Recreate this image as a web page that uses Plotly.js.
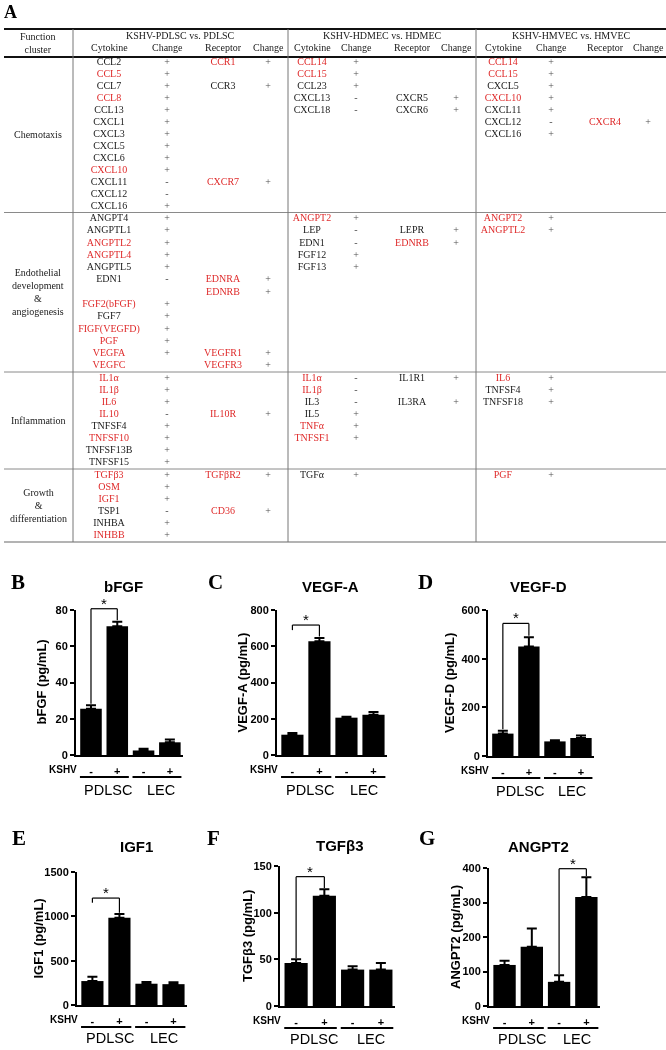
<!DOCTYPE html>
<html><head><meta charset="utf-8">
<script src="https://cdn.plot.ly/plotly-3.0.1.min.js"></script>
<style>html,body{margin:0;padding:0;background:#fff}#chart{width:666px;height:1050px;will-change:transform}</style>
</head><body><div id="chart"></div>
<script>
// ================= Panel A data =================
const clusterNames = ["Chemotaxis", "Endothelial<br>development<br>&<br>angiogenesis", "Inflammation", "Growth<br>&<br>differentiation"];
const comparisons = ["KSHV-PDLSC vs. PDLSC", "KSHV-HDMEC vs. HDMEC", "KSHV-HMVEC vs. HMVEC"];
const subHeaders = ["Cytokine", "Change", "Receptor", "Change"];

// rows: [cytokine, change, receptor, receptor change]
const pdlscChemotaxis = [["CCL2","+","CCR1","+"],["CCL5","+","",""],["CCL7","+","CCR3","+"],["CCL8","+","",""],["CCL13","+","",""],["CXCL1","+","",""],["CXCL3","+","",""],["CXCL5","+","",""],["CXCL6","+","",""],["CXCL10","+","",""],["CXCL11","-","CXCR7","+"],["CXCL12","-","",""],["CXCL16","+","",""]];
const pdlscEndothelial = [["ANGPT4","+","",""],["ANGPTL1","+","",""],["ANGPTL2","+","",""],["ANGPTL4","+","",""],["ANGPTL5","+","",""],["EDN1","-","EDNRA","+"],["","","EDNRB","+"],["FGF2(bFGF)","+","",""],["FGF7","+","",""],["FIGF(VEGFD)","+","",""],["PGF","+","",""],["VEGFA","+","VEGFR1","+"],["VEGFC","","VEGFR3","+"]];
const pdlscInflammation = [["IL1α","+","",""],["IL1β","+","",""],["IL6","+","",""],["IL10","-","IL10R","+"],["TNFSF4","+","",""],["TNFSF10","+","",""],["TNFSF13B","+","",""],["TNFSF15","+","",""]];
const pdlscGrowth = [["TGFβ3","+","TGFβR2","+"],["OSM","+","",""],["IGF1","+","",""],["TSP1","-","CD36","+"],["INHBA","+","",""],["INHBB","+","",""]];

const hdmecChemotaxis = [["CCL14","+","",""],["CCL15","+","",""],["CCL23","+","",""],["CXCL13","-","CXCR5","+"],["CXCL18","-","CXCR6","+"]];
const hdmecEndothelial = [["ANGPT2","+","",""],["LEP","-","LEPR","+"],["EDN1","-","EDNRB","+"],["FGF12","+","",""],["FGF13","+","",""]];
const hdmecInflammation = [["IL1α","-","IL1R1","+"],["IL1β","-","",""],["IL3","-","IL3RA","+"],["IL5","+","",""],["TNFα","+","",""],["TNFSF1","+","",""]];
const hdmecGrowth = [["TGFα","+","",""]];

const hmvecChemotaxis = [["CCL14","+","",""],["CCL15","+","",""],["CXCL5","+","",""],["CXCL10","+","",""],["CXCL11","+","",""],["CXCL12","-","CXCR4","+"],["CXCL16","+","",""]];
const hmvecEndothelial = [["ANGPT2","+","",""],["ANGPTL2","+","",""]];
const hmvecInflammation = [["IL6","+","",""],["TNFSF4","+","",""],["TNFSF18","+","",""]];
const hmvecGrowth = [["PGF","+","",""]];

const highlighted = ["CCL5","CCL8","CXCL10","CCR1","CXCR7","CCL14","CCL15","CXCR4","ANGPT2","ANGPTL2","ANGPTL4","EDNRA","EDNRB","FGF2(bFGF)","FIGF(VEGFD)","PGF","VEGFA","VEGFC","VEGFR1","VEGFR3","IL1α","IL1β","IL6","IL10","IL10R","TNFSF10","TNFα","TNFSF1","TGFβ3","TGFβR2","OSM","IGF1","CD36","INHBB"];

// ================= Panels B-G data =================
const cellTypes = ["PDLSC","PDLSC","LEC","LEC"];
const kshvStatus = ["-","+","-","+"];
const groupNames = ["PDLSC","LEC"];

const bfgf = [25.5, 71, 2.5, 7];      const bfgfErr = [2, 2.5, 1, 1.5];
const vegfa = [112, 628, 206, 222];   const vegfaErr = [10, 18, 5, 15];
const vegfd = [92, 450, 60, 74];      const vegfdErr = [12, 38, 5, 10];
const igf1 = [270, 985, 240, 235];    const igf1Err = [50, 40, 20, 22];
const tgfb3 = [46, 118, 39, 39];      const tgfb3Err = [4, 7, 3.5, 7];
const angpt2 = [119, 172, 70, 316];   const angpt2Err = [12, 53, 19, 57];

// significance: [bar i, bar j, bracket height, left leg to bar (1) or short (0), right leg to bar]
const bfgfSig = [0, 1, 80.7, 1, 1];
const vegfaSig = [0, 1, 717, 0, 1];
const vegfdSig = [0, 1, 545, 1, 1];
const igf1Sig = [0, 1, 1206, 0, 1];
const tgfb3Sig = [0, 1, 138.6, 1, 1];
const angpt2Sig = [2, 3, 398, 1, 1];

// ================= Build =================
const W = 666, H = 1050;
const PX = p => p / W, PY = p => 1 - p / H;
const RED = "#df2b2b", INK = "#1a1a1a", SIGN = "#505050";
const SERIF = "Liberation Serif, Times New Roman, serif";
const SANS = "Liberation Sans, Arial, sans-serif";

const traces = [], annotations = [], shapes = [];
const layout = {
  width: W, height: H, margin: {l:0, r:0, t:0, b:0},
  paper_bgcolor: "#fff", plot_bgcolor: "rgba(0,0,0,0)", showlegend: false,
  annotations, shapes
};
const note = (o) => annotations.push(Object.assign({showarrow:false, xanchor:"center", yanchor:"middle"}, o));

// ---- Table (panel A) ----
const tableBottom = 548;
layout.xaxis7 = {domain:[0,1], range:[0, W], visible:false, fixedrange:true};
layout.yaxis7 = {domain:[PY(tableBottom), 1], range:[tableBottom, 0], visible:false, fixedrange:true};
const sepY = [57, 212.5, 372, 469, 542];
const colX = [[109,167,223,268],[312,356,412,456],[503,551,605,648]];
const groupCenterX = [180.5, 382, 571];
const vLineX = [73, 288, 476];
const labelX = 38;
const tableData = [
  [pdlscChemotaxis, pdlscEndothelial, pdlscInflammation, pdlscGrowth],
  [hdmecChemotaxis, hdmecEndothelial, hdmecInflammation, hdmecGrowth],
  [hmvecChemotaxis, hmvecEndothelial, hmvecInflammation, hmvecGrowth]
];
const cellsOf = {black:{x:[],y:[],t:[]}, red:{x:[],y:[],t:[]}, sign:{x:[],y:[],t:[]}};
clusterNames.forEach((name, k) => {
  const nRows = Math.max(...tableData.map(g => g[k].length));
  const pitch = (sepY[k+1] - sepY[k]) / nRows;
  tableData.forEach((g, gi) => {
    g[k].forEach((row, i) => {
      row.forEach((cell, c) => {
        if (!cell) return;
        const kind = (c % 2 === 1) ? "sign" : (highlighted.includes(cell) ? "red" : "black");
        cellsOf[kind].x.push(colX[gi][c]);
        cellsOf[kind].y.push(sepY[k] + pitch * (i + 0.5));
        cellsOf[kind].t.push(cell);
      });
    });
  });
  note({xref:"x7", yref:"y7", x:labelX, y:(sepY[k]+sepY[k+1])/2, text:name,
    font:{family:SERIF, size:10, color:INK}, align:"center"});
});
[["black", INK, 10], ["red", RED, 10], ["sign", SIGN, 10]].forEach(([kind, color, size]) => {
  traces.push({type:"scatter", mode:"text", x:cellsOf[kind].x, y:cellsOf[kind].y, text:cellsOf[kind].t,
    xaxis:"x7", yaxis:"y7", textposition:"middle center",
    textfont:{family:SERIF, size:size, color:color}, cliponaxis:false, hoverinfo:"skip"});
});
// headers
note({xref:"x7", yref:"y7", x:labelX, y:43, text:"Function<br>cluster", font:{family:SERIF, size:10, color:INK}});
comparisons.forEach((c, gi) => {
  note({xref:"x7", yref:"y7", x:groupCenterX[gi], y:35.5, text:c, font:{family:SERIF, size:10, color:INK}});
  subHeaders.forEach((s, ci) => note({xref:"x7", yref:"y7", x:colX[gi][ci], y:47, text:s,
    font:{family:SERIF, size:10, color:INK}}));
});
// table rules
const hl = (y, w, col) => shapes.push({type:"line", xref:"x7", yref:"y7", x0:4, x1:W, y0:y, y1:y, line:{color:col, width:w}});
hl(29, 2.2, "#111"); hl(57, 2, "#111");
sepY.slice(1, 4).forEach(y => hl(y, 1, "#8a8a8a"));
hl(542, 1.5, "#9a9a9a");
vLineX.forEach(x => shapes.push({type:"line", xref:"x7", yref:"y7", x0:x, x1:x, y0:29, y1:542, line:{color:"#777", width:1}}));
note({xref:"paper", yref:"paper", x:PX(10), y:PY(12), text:"<b>A</b>", font:{family:SERIF, size:18, color:"#000"}});

// ---- Bar panels ----
const charts = [
  {letter:"B", title:"bFGF", yTitle:"bFGF (pg/mL)", values:bfgf, errors:bfgfErr, yMax:80, dtick:20, sig:bfgfSig},
  {letter:"C", title:"VEGF-A", yTitle:"VEGF-A (pg/mL)", values:vegfa, errors:vegfaErr, yMax:800, dtick:200, sig:vegfaSig},
  {letter:"D", title:"VEGF-D", yTitle:"VEGF-D (pg/mL)", values:vegfd, errors:vegfdErr, yMax:600, dtick:200, sig:vegfdSig},
  {letter:"E", title:"IGF1", yTitle:"IGF1 (pg/mL)", values:igf1, errors:igf1Err, yMax:1500, dtick:500, sig:igf1Sig},
  {letter:"F", title:"TGFβ3", yTitle:"TGFβ3 (pg/mL)", values:tgfb3, errors:tgfb3Err, yMax:150, dtick:50, sig:tgfb3Sig},
  {letter:"G", title:"ANGPT2", yTitle:"ANGPT2 (pg/mL)", values:angpt2, errors:angpt2Err, yMax:400, dtick:100, sig:angpt2Sig}
];
// layout boxes in px: [left, right, top, bottom]
const boxes = [[76,183,610,755],[277,387,610,755],[488,594,610,756],[77,187,872,1005],[280,395,866,1006],[489,600,868,1006]];
const titlePos = [[123,586],[330,586],[538,586],[136,846],[340,845],[538,846]];
const letterPos = [[18,582],[215,582],[425,582],[19,838],[213,838],[427,838]];
const yTitleX = [41, 242, 449, 38, 247, 455];
const labelDrop = [35, 35, 35, 33, 33, 33];

charts.forEach((ch, n) => {
  const sfx = n === 0 ? "" : String(n + 1);
  const xa = "x" + sfx, ya = "y" + sfx;
  const b = boxes[n];
  const xs = cellTypes.map((_, i) => i);
  layout["xaxis" + sfx] = {domain:[PX(b[0]), PX(b[1])], range:[-0.57, 3.5], anchor:ya,
    tickvals:xs, ticktext:kshvStatus, ticks:"outside", ticklen:5, tickcolor:"rgba(0,0,0,0)",
    tickfont:{family:SANS, size:11, color:"#000", weight:"bold"},
    showline:true, linecolor:"#000", linewidth:2, showgrid:false, zeroline:false, fixedrange:true};
  layout["yaxis" + sfx] = {domain:[PY(b[3]), PY(b[2])], range:[0, ch.yMax], dtick:ch.dtick, anchor:xa,
    ticks:"outside", ticklen:4, tickwidth:2, tickcolor:"#000",
    tickfont:{family:SANS, size:11, color:"#000", weight:"bold"},
    showline:true, linecolor:"#000", linewidth:2, showgrid:false, zeroline:false, fixedrange:true};
  traces.push({type:"bar", x:xs, y:ch.values, width:0.82, xaxis:xa, yaxis:ya,
    marker:{color:"#000", line:{width:0}}, hoverinfo:"skip",
    error_y:{type:"data", symmetric:false, array:ch.errors, arrayminus:ch.errors.map(() => 0),
      color:"#000", thickness:2, width:5}});
  // significance bracket (y in fraction of the axis domain, so it may rise above the top tick)
  const [i, j, top, lFull, rFull] = ch.sig;
  const gap = 0.01 * ch.yMax, shortLeg = 0.035 * ch.yMax;
  const lb = lFull ? ch.values[i] + ch.errors[i] + gap : top - shortLeg;
  const rb = rFull ? ch.values[j] + ch.errors[j] + gap : top - shortLeg;
  const f = v => v / ch.yMax;
  const seg = (x0, y0, x1, y1) => shapes.push({type:"line", xref:xa, yref:ya + " domain", x0, x1, y0:f(y0), y1:f(y1),
    line:{color:"#000", width:1.2}});
  seg(i, lb, i, top); seg(i, top, j, top); seg(j, top, j, rb);
  note({xref:xa, yref:ya + " domain", x:(i + j) / 2, y:f(top), yanchor:"bottom", yshift:-5, text:"*",
    font:{family:SANS, size:15, color:"#000"}});
  // y title
  note({xref:"paper", yref:"paper", x:PX(yTitleX[n]), y:PY((b[2] + b[3]) / 2), textangle:-90, text:ch.yTitle,
    font:{family:SANS, size:13, color:"#000", weight:"bold"}});
  // KSHV label, group underlines and names
  note({xref:xa, yref:"paper", x:-0.45, y:PY(b[3] + 14), xanchor:"right", text:"KSHV",
    font:{family:SANS, size:10, color:"#000", weight:"bold"}});
  groupNames.forEach((g, gi) => {
    shapes.push({type:"line", xref:xa, yref:"paper", x0:2*gi - 0.42, x1:2*gi + 1.44, y0:PY(b[3] + 22), y1:PY(b[3] + 22),
      line:{color:"#000", width:2}});
    note({xref:xa, yref:"paper", x:2*gi + 0.65, y:PY(b[3] + labelDrop[n]), text:g,
      font:{family:SANS, size:14.5, color:"#000"}});
  });
  note({xref:"paper", yref:"paper", x:PX(titlePos[n][0]), y:PY(titlePos[n][1]), text:ch.title,
    font:{family:SANS, size:15, color:"#000", weight:"bold"}});
  note({xref:"paper", yref:"paper", x:PX(letterPos[n][0]), y:PY(letterPos[n][1]), text:"<b>" + ch.letter + "</b>",
    font:{family:SERIF, size:21, color:"#000"}});
});

Plotly.newPlot("chart", traces, layout, {staticPlot:true, displayModeBar:false});
</script>
</body></html>
